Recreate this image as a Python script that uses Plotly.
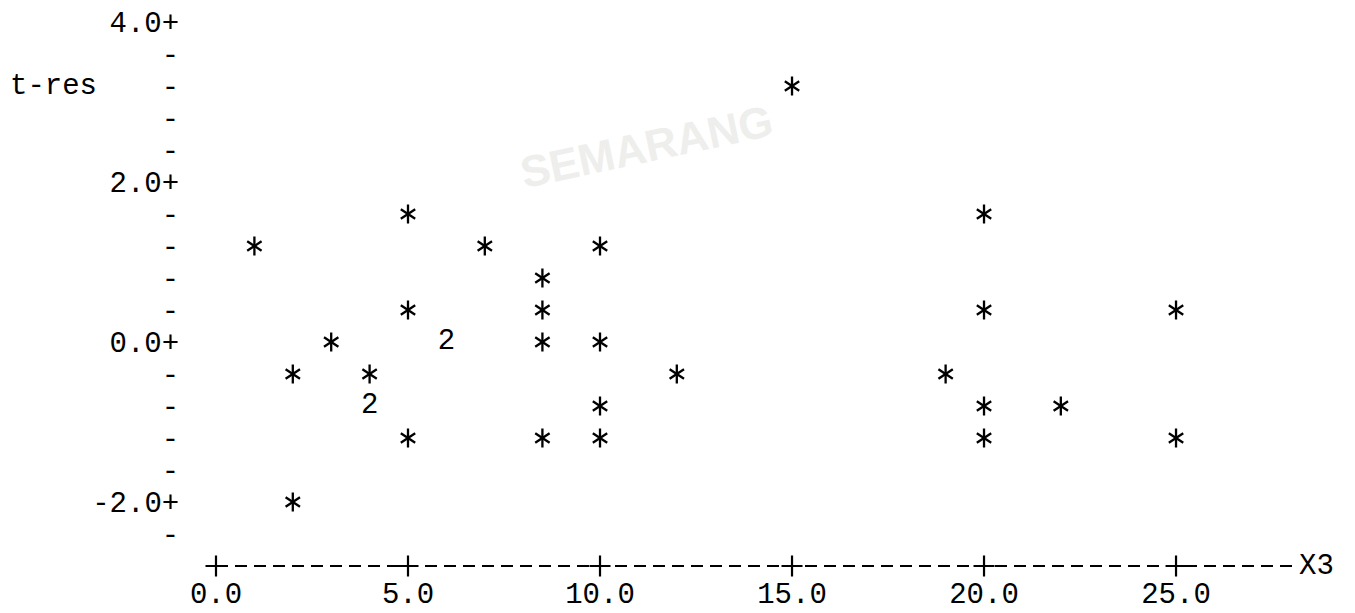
import plotly.graph_objects as go
from collections import Counter

# ---- data ----
x3 = [1, 2, 2, 3, 4, 4, 4, 5, 5, 5, 6, 6, 7, 8.5, 8.5, 8.5, 8.5,
      10, 10, 10, 10, 12, 15, 19, 20, 20, 20, 20, 22, 25, 25]
t_res = [1.2, -0.4, -2.0, 0.0, -0.4, -0.8, -0.8, 1.6, 0.4, -1.2, 0.0, 0.0, 1.2,
         0.8, 0.4, 0.0, -1.2, 1.2, 0.0, -0.8, -1.2, -0.4, 3.2, -0.4,
         1.6, 0.4, -0.8, -1.2, -0.8, 0.4, -1.2]

x_tick_vals = [0, 5, 10, 15, 20, 25]
x_tick_text = ["0.0", "5.0", "10.0", "15.0", "20.0", "25.0"]
y_major = [4.0, 2.0, 0.0, -2.0]
y_rows = [round(-2.4 + 0.4 * i, 1) for i in range(17)]
y_tick_text = [f"{v:.1f}+" if v in y_major else "-" for v in y_rows]

x_label = "X3"
y_label = "t-res"

MONO = "Liberation Mono, Courier New, monospace"
FS = 29

counts = Counter(zip(x3, t_res))
sx = [p[0] for p, c in counts.items() if c == 1]
sy = [p[1] for p, c in counts.items() if c == 1]
mx = [p[0] for p, c in counts.items() if c > 1]
my = [p[1] for p, c in counts.items() if c > 1]
mt = [str(c) for p, c in counts.items() if c > 1]

fig = go.Figure()
for sym in ["y-up-open", "y-down-open"]:
    fig.add_trace(go.Scatter(
        x=sx, y=sy, mode="markers",
        marker=dict(symbol=sym, size=12, color="black",
                    line=dict(color="black", width=2.3)),
        hoverinfo="x+y", showlegend=False))
fig.add_trace(go.Scatter(
    x=mx, y=my, mode="text", text=mt, textposition="middle center",
    textfont=dict(family=MONO, size=FS, color="black"), showlegend=False))

y_bottom = -2.8
# "+" marks of the character x axis
fig.add_trace(go.Scatter(
    x=x_tick_vals, y=[y_bottom] * len(x_tick_vals), mode="markers",
    marker=dict(symbol="cross-thin", size=15, color="black",
                line=dict(color="black", width=2.2)),
    cliponaxis=False, hoverinfo="skip", showlegend=False))

# dashed axis line (the "-----" characters)
fig.add_shape(type="line", xref="x", yref="y domain", x0=0, x1=28.1, y0=0, y1=0,
              line=dict(color="black", width=2, dash="12px,7px"))

fig.add_annotation(x=28.15, y=y_bottom, xref="x", yref="y", text=x_label,
                   showarrow=False, xanchor="left", yanchor="middle",
                   font=dict(family=MONO, size=FS, color="black"))
fig.add_annotation(x=-0.158, y=3.2, xref="paper", yref="y", text=y_label,
                   showarrow=False, xanchor="left", yanchor="middle",
                   font=dict(family=MONO, size=FS, color="black"))

# faint watermark of the scanned page
fig.add_annotation(x=11.2, y=2.45, xref="x", yref="y", text="<b>SEMARANG</b>",
                   showarrow=False, textangle=-12,
                   font=dict(family="Liberation Sans, Arial", size=44, color="#eeeeec"))

fig.update_layout(
    width=1355, height=613,
    margin=dict(l=182, r=23, t=0, b=55),
    paper_bgcolor="white", plot_bgcolor="white",
    xaxis=dict(range=[-0.677, 29.27], tickvals=x_tick_vals, ticktext=x_tick_text,
               showgrid=False, zeroline=False, showline=False, automargin=False,
               ticks="outside", ticklen=1, tickcolor="rgba(0,0,0,0)",
               tickfont=dict(family=MONO, size=FS, color="black")),
    yaxis=dict(range=[y_bottom, 4.175], tickvals=y_rows, ticktext=y_tick_text,
               showgrid=False, zeroline=False, showline=False, automargin=False,
               ticks="outside", ticklen=4, tickcolor="rgba(0,0,0,0)",
               tickfont=dict(family=MONO, size=FS, color="black")),
    showlegend=False,
)

fig.write_html("out.html")
